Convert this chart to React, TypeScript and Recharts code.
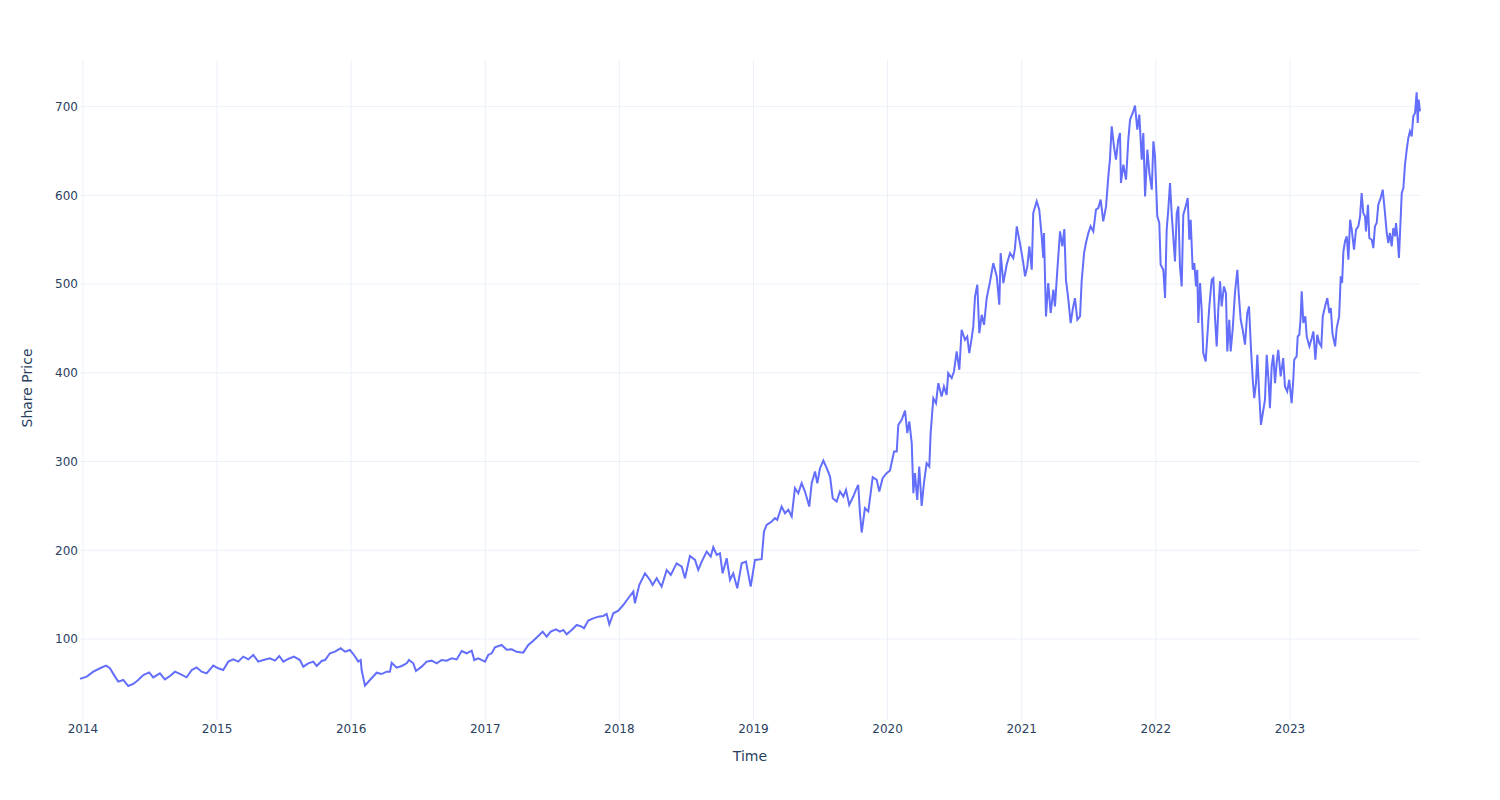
import { LineChart, Line, XAxis, YAxis, CartesianGrid } from 'recharts';

// time as decimal years
const dates = [
  2013.978, 2014.028, 2014.077, 2014.127, 2014.172, 2014.201, 2014.239, 2014.263, 2014.301, 2014.338,
  2014.375, 2014.412, 2014.45, 2014.494, 2014.524, 2014.574, 2014.611, 2014.649, 2014.686, 2014.723,
  2014.773, 2014.811, 2014.848, 2014.885, 2014.922, 2014.972, 2015.009, 2015.046, 2015.084, 2015.121,
  2015.158, 2015.195, 2015.233, 2015.27, 2015.307, 2015.345, 2015.394, 2015.432, 2015.464, 2015.494,
  2015.531, 2015.573, 2015.618, 2015.643, 2015.68, 2015.717, 2015.743, 2015.78, 2015.805, 2015.842,
  2015.879, 2015.922, 2015.954, 2015.991, 2016.021, 2016.053, 2016.071, 2016.078, 2016.103, 2016.14,
  2016.19, 2016.227, 2016.265, 2016.289, 2016.302, 2016.339, 2016.377, 2016.414, 2016.431, 2016.463,
  2016.483, 2016.526, 2016.563, 2016.6, 2016.638, 2016.675, 2016.712, 2016.749, 2016.787, 2016.824,
  2016.861, 2016.899, 2016.918, 2016.948, 2016.998, 2017.022, 2017.048, 2017.072, 2017.122, 2017.16,
  2017.197, 2017.234, 2017.283, 2017.321, 2017.358, 2017.395, 2017.428, 2017.458, 2017.488, 2017.527,
  2017.557, 2017.582, 2017.607, 2017.644, 2017.682, 2017.719, 2017.736, 2017.768, 2017.805, 2017.843,
  2017.88, 2017.905, 2017.925, 2017.955, 2017.992, 2018.029, 2018.066, 2018.104, 2018.116, 2018.148,
  2018.191, 2018.228, 2018.248, 2018.278, 2018.315, 2018.353, 2018.383, 2018.427, 2018.465, 2018.489,
  2018.526, 2018.564, 2018.588, 2018.614, 2018.651, 2018.681, 2018.7, 2018.726, 2018.75, 2018.77,
  2018.8, 2018.825, 2018.849, 2018.879, 2018.912, 2018.944, 2018.979, 2019.011, 2019.061, 2019.078,
  2019.098, 2019.136, 2019.16, 2019.177, 2019.21, 2019.235, 2019.26, 2019.285, 2019.309, 2019.334,
  2019.359, 2019.384, 2019.416, 2019.434, 2019.459, 2019.476, 2019.496, 2019.521, 2019.546, 2019.571,
  2019.591, 2019.62, 2019.645, 2019.67, 2019.69, 2019.714, 2019.744, 2019.764, 2019.781, 2019.794,
  2019.807, 2019.831, 2019.856, 2019.889, 2019.919, 2019.938, 2019.963, 2019.993, 2020.018, 2020.048,
  2020.068, 2020.08, 2020.105, 2020.13, 2020.147, 2020.162, 2020.18, 2020.192, 2020.204, 2020.221,
  2020.236, 2020.254, 2020.271, 2020.291, 2020.311, 2020.321, 2020.341, 2020.361, 2020.378, 2020.403,
  2020.42, 2020.44, 2020.452, 2020.478, 2020.495, 2020.515, 2020.535, 2020.552, 2020.577, 2020.594,
  2020.609, 2020.627, 2020.639, 2020.652, 2020.669, 2020.684, 2020.702, 2020.719, 2020.739, 2020.764,
  2020.788, 2020.814, 2020.833, 2020.843, 2020.863, 2020.888, 2020.913, 2020.937, 2020.95, 2020.963,
  2020.987, 2021.012, 2021.025, 2021.042, 2021.057, 2021.075, 2021.086, 2021.112, 2021.131, 2021.149,
  2021.161, 2021.166, 2021.181, 2021.198, 2021.216, 2021.236, 2021.248, 2021.265, 2021.286, 2021.303,
  2021.318, 2021.33, 2021.348, 2021.365, 2021.38, 2021.397, 2021.415, 2021.435, 2021.447, 2021.465,
  2021.479, 2021.497, 2021.514, 2021.534, 2021.554, 2021.571, 2021.589, 2021.608, 2021.629, 2021.646,
  2021.658, 2021.671, 2021.688, 2021.703, 2021.72, 2021.733, 2021.74, 2021.758, 2021.778, 2021.795,
  2021.808, 2021.828, 2021.845, 2021.862, 2021.877, 2021.895, 2021.907, 2021.92, 2021.937, 2021.952,
  2021.97, 2021.982, 2021.994, 2022.011, 2022.026, 2022.036, 2022.056, 2022.069, 2022.081, 2022.093,
  2022.106, 2022.118, 2022.13, 2022.143, 2022.156, 2022.168, 2022.18, 2022.193, 2022.205, 2022.223,
  2022.238, 2022.25, 2022.26, 2022.275, 2022.287, 2022.3, 2022.309, 2022.317, 2022.33, 2022.342,
  2022.354, 2022.372, 2022.384, 2022.399, 2022.417, 2022.429, 2022.441, 2022.454, 2022.466, 2022.479,
  2022.491, 2022.508, 2022.523, 2022.533, 2022.548, 2022.558, 2022.573, 2022.59, 2022.608, 2022.618,
  2022.633, 2022.648, 2022.665, 2022.682, 2022.695, 2022.71, 2022.723, 2022.734, 2022.747, 2022.757,
  2022.772, 2022.784, 2022.802, 2022.814, 2022.827, 2022.842, 2022.851, 2022.864, 2022.876, 2022.889,
  2022.901, 2022.913, 2022.931, 2022.95, 2022.963, 2022.98, 2022.995, 2023.013, 2023.025, 2023.032,
  2023.05, 2023.058, 2023.07, 2023.08, 2023.088, 2023.1, 2023.115, 2023.125, 2023.145, 2023.163,
  2023.175, 2023.19, 2023.204, 2023.219, 2023.234, 2023.245, 2023.262, 2023.279, 2023.294, 2023.305,
  2023.317, 2023.337, 2023.349, 2023.367, 2023.379, 2023.389, 2023.399, 2023.411, 2023.424, 2023.436,
  2023.449, 2023.461, 2023.478, 2023.493, 2023.51, 2023.523, 2023.535, 2023.547, 2023.56, 2023.567,
  2023.582, 2023.592, 2023.61, 2023.622, 2023.634, 2023.647, 2023.659, 2023.677, 2023.692, 2023.709,
  2023.722, 2023.734, 2023.746, 2023.759, 2023.771, 2023.784, 2023.791, 2023.804, 2023.813, 2023.821,
  2023.834, 2023.846, 2023.858, 2023.871, 2023.883, 2023.895, 2023.908, 2023.92, 2023.933, 2023.945,
  2023.953, 2023.96, 2023.97,
];

const prices = [
  55, 57.6, 63.2, 67, 70, 67, 57.6, 52, 53.8, 47,
  49.3, 53.8, 59.4, 62.4, 56.8, 61.3, 54.5, 58.3, 63.2, 60.6,
  56.8, 65, 68, 63.2, 61.3, 70, 67, 65, 74.5, 77,
  74.5, 80.1, 77, 82, 74.5, 76.3, 78.2, 75.6, 80.8, 74.5,
  77.5, 80.1, 76.3, 68.8, 72.6, 74.5, 69.6, 75.2, 76.3, 83.9,
  85.7, 89.5, 85.7, 87.6, 82, 74.5, 76.3, 65, 47.4, 53.8,
  62, 60.5, 63.2, 63.2, 73.3, 67.7, 69.6, 72.6, 76.3, 72.6,
  64, 68.8, 74.5, 75.6, 72.6, 76.3, 75.6, 78.2, 77, 86.5,
  83.9, 86.9, 76.3, 78.2, 74.5, 82, 83.9, 90.6, 93.3, 88,
  88.4, 85.5, 84.6, 93.2, 98.1, 103.4, 108.3, 102.6, 108.3, 110.9,
  108.3, 110.2, 105.3, 110.2, 115.8, 113.9, 112, 120.7, 123.3, 125.2,
  126, 128.2, 116.5, 129, 132, 138.3, 145.9, 153.4, 140.2, 160.9,
  174, 166.5, 160.9, 168.4, 159, 177.8, 172.2, 185.3, 181.6, 168.4,
  193.6, 189.1, 177.8, 187.2, 198.5, 192.8, 203.4, 194.7, 196.6, 174,
  191, 166.5, 174, 157.1, 185.3, 187.2, 159, 189.1, 190, 221,
  228.6, 232.4, 236.2, 234.3, 249.3, 241.8, 245.6, 238, 270, 264.3,
  275.6, 266.2, 249.3, 275.6, 288.8, 275.6, 292.5, 301.2, 292.5, 283.1,
  258.7, 255, 266.2, 260.6, 268.1, 251.2, 260.6, 268.1, 273.7, 241.8,
  220, 247.4, 243.7, 282.4, 279.4, 266.2, 281.3, 286.9, 290, 311.3,
  311.3, 341.4, 347, 357.5, 332, 345.1, 320.7, 264.3, 286.9, 256.8,
  294.4, 250, 275.6, 298.1, 294.4, 332, 371.4, 365.8, 388.4, 373.3,
  384.6, 375.2, 399.6, 394, 401.5, 424.1, 403.4, 448.5, 437.2, 441,
  422.2, 439.1, 452.3, 486.1, 499.3, 444.7, 465.4, 454.1, 484.2, 503,
  523.7, 508.6, 476.7, 535, 501.1, 521.8, 535, 529.3, 540.6, 565,
  546.2, 523.7, 508.7, 520, 542.5, 516.2, 580.1, 593.3, 583.9, 553.8,
  529.4, 557.6, 463.6, 501.2, 467.4, 493.7, 474.9, 514.3, 559.4, 542.5,
  562.1, 504.9, 482.4, 456.1, 471.1, 484.2, 459.8, 463.6, 503.1, 535,
  546.3, 557.6, 565.1, 559.4, 583.9, 585.7, 595.2, 570.7, 587.6, 621.5,
  640.3, 677.9, 655.3, 640.3, 662.8, 670.3, 614, 634.6, 617.7, 662.8,
  685.4, 692.9, 701.2, 674.1, 691, 640.3, 670.3, 598.9, 651.5, 625.2,
  606.4, 660.9, 644.1, 576.4, 568.9, 521.9, 516.2, 484.3, 561.3, 583.9,
  614, 580.1, 553.8, 525.6, 580.1, 587.6, 520, 497.4, 578.3, 587.6,
  597.1, 550, 572.6, 516.2, 523.7, 497.4, 516.2, 456.1, 501.2, 471.1,
  422.3, 412.9, 441, 474.9, 504.9, 506.8, 463.6, 429.8, 471.1, 503.1,
  474.9, 497.4, 489.9, 424.1, 459.8, 424.1, 448.6, 489.9, 516.2, 489.9,
  459.8, 448.6, 431.7, 467.4, 474.9, 426, 392.2, 371.5, 388.4, 420.4,
  373.4, 341.4, 358.4, 369.6, 420.4, 388.4, 360.2, 407.2, 420.4, 388.4,
  411, 426, 395.9, 416.6, 384.7, 379, 392.2, 365.9, 392.2, 414.7,
  418.5, 441, 442.9, 461.7, 491.8, 456.1, 463.6, 441, 429.8, 439.2,
  446.7, 414.7, 442.9, 433.5, 429.8, 463.6, 474.9, 484.3, 467.4, 473,
  444.8, 429.8, 450.5, 463.6, 508.7, 501.2, 536.9, 548.2, 553.8, 527.5,
  572.6, 561.3, 538.8, 561.3, 565.1, 576.4, 602.7, 580.1, 576.4, 559.5,
  589.5, 551.9, 550, 540.6, 565.1, 568.9, 589.5, 597.1, 606.4, 580.1,
  557.6, 546.3, 557.6, 542.5, 563.2, 553.8, 568.9, 550, 529.4, 557.6,
  602.7, 608.3, 634.6, 651.6, 664.7, 672.2, 666.6, 689.2, 692.9, 716.2,
  681.6, 708, 694.8,
];

const yearTicks = [2014, 2015, 2016, 2017, 2018, 2019, 2020, 2021, 2022, 2023];
const priceTicks = [100, 200, 300, 400, 500, 600, 700];

const data = dates.map((t, i) => ({ t, price: prices[i] }));

const font = 'DejaVu Sans, Verdana, sans-serif';
const ink = '#2a3f5f';

export default function App() {
  return (
    <div style={{ position: 'absolute', left: 0, top: 0, background: '#fff' }}>
      <LineChart
        width={1500}
        height={800}
        data={data}
        margin={{ top: 60, right: 80, left: 0, bottom: 0 }}
      >
        <CartesianGrid stroke="#EBF0F8" strokeWidth={1} syncWithTicks />
        <XAxis
          dataKey="t"
          type="number"
          domain={[2013.978, 2023.97]}
          ticks={yearTicks}
          height={80}
          tickLine={false}
          axisLine={false}
          tickSize={0}
          tickMargin={4}
          tick={{ fill: ink, fontSize: 12, fontFamily: font }}
          label={{
            content: () => (
              <text x={750} y={761} textAnchor="middle" fill={ink} fontSize={14} fontFamily={font}>
                Time
              </text>
            ),
          }}
        />
        <YAxis
          type="number"
          domain={[8.7, 752.6]}
          ticks={priceTicks}
          width={80}
          tickLine={false}
          axisLine={false}
          tickSize={0}
          tickMargin={2}
          tick={{ fill: ink, fontSize: 12, fontFamily: font }}
          label={{
            content: () => (
              <text
                x={31.5}
                y={388}
                transform="rotate(-90, 31.5, 388)"
                textAnchor="middle"
                fill={ink}
                fontSize={14}
                fontFamily={font}
              >
                Share Price
              </text>
            ),
          }}
        />
        <Line
          type="linear"
          dataKey="price"
          stroke="#636efa"
          strokeWidth={2}
          dot={false}
          isAnimationActive={false}
        />
      </LineChart>
    </div>
  );
}
